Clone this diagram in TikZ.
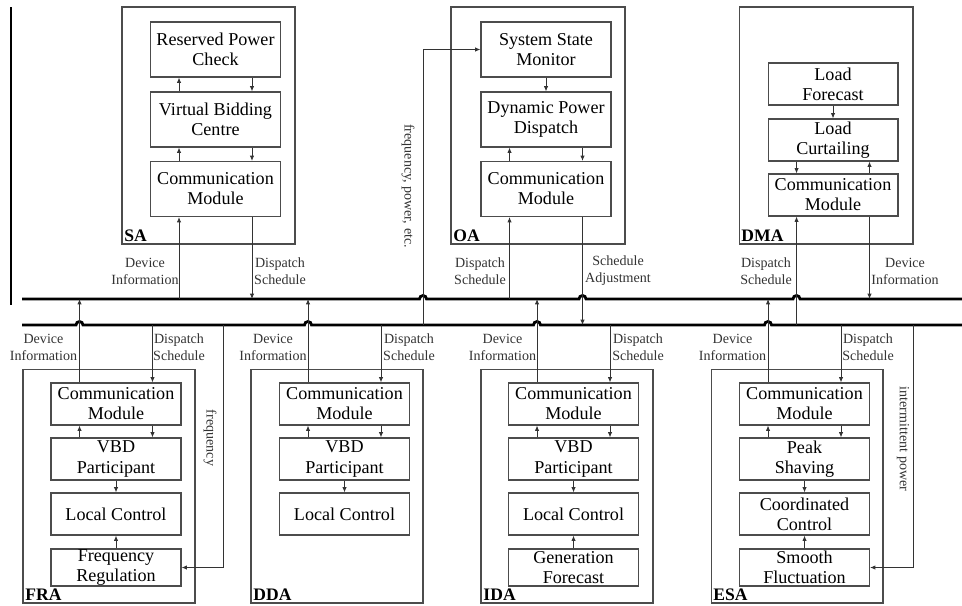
\documentclass[tikz,border=0pt]{standalone}
\usepackage{fontspec}
\setmainfont{Liberation Serif}
\usetikzlibrary{arrows.meta}

\newcommand{\aoff}{0.73cm}

\begin{document}
\begin{tikzpicture}[x=0.02cm, y=-0.02cm,
    box/.style={draw=black!70, line width=0.6pt, minimum width=2.6cm, align=center, inner sep=0pt, font=\rmfamily\fontsize{10.3}{11.4}\selectfont},
    tall/.style={minimum height=1.1cm}, mid/.style={minimum height=0.84cm}, low/.style={minimum height=0.74cm},
    agent/.style={draw=black!70, line width=0.6pt, inner sep=0pt},
    tag/.style={font=\rmfamily\fontsize{10}{12}\selectfont\bfseries, inner sep=1.5pt},
    lbl/.style={font=\rmfamily\fontsize{8}{9.6}\selectfont, text=black!80, align=center, inner sep=1pt},
    arr/.style={draw=black!80, line width=0.45pt, -{Latex[length=3pt,width=2.4pt]}},
    bus/.style={line width=1.6pt}]
    \useasboundingbox (0,0) rectangle (962,605);

    % upper agents
    \node[agent, minimum width=3.46cm, minimum height=4.74cm] (sa) at (208.5,125.5) {};
    \node[tag, anchor=south west] (saTag) at (sa.south west) {SA};
    \node[box, tall] (saRPC) at (215.5,49.5) {Reserved Power\\Check};
    \node[box, tall] (saVBC) at (215.5,119.5) {Virtual Bidding\\Centre};
    \node[box, tall] (saCom) at (215.5,189) {Communication\\Module};

    \node[agent, minimum width=3.48cm, minimum height=4.74cm] (oa) at (538,125.5) {};
    \node[tag, anchor=south west] (oaTag) at (oa.south west) {OA};
    \node[box, tall] (oaSSM) at (546,49.5) {System State\\Monitor};
    \node[box, tall] (oaDPD) at (546,119.5) {Dynamic Power\\Dispatch};
    \node[box, tall] (oaCom) at (546,189) {Communication\\Module};

    \node[agent, minimum width=3.48cm, minimum height=4.74cm] (dma) at (826,125.5) {};
    \node[tag, anchor=south west] (dmaTag) at (dma.south west) {DMA};
    \node[box, mid] (dmaLF) at (833,84) {Load\\Forecast};
    \node[box, mid] (dmaLC) at (833,140) {Load\\Curtailing};
    \node[box, mid] (dmaCom) at (833,195) {Communication\\Module};

    % lower agents
    \node[agent, minimum width=3.44cm, minimum height=4.68cm] (fra) at (109,486) {};
    \node[tag, anchor=south west] (fraTag) at (fra.south west) {FRA};
    \node[box, mid] (fraCom) at (116,404) {Communication\\Module};
    \node[box, mid] (fraVBD) at (116,459) {VBD\\Participant};
    \node[box, mid] (fraLC) at (116,514) {Local Control};
    \node[box, low] (fraFR) at (116,567.5) {Frequency\\Regulation};

    \node[agent, minimum width=3.44cm, minimum height=4.68cm] (dda) at (337,486) {};
    \node[tag, anchor=south west] (ddaTag) at (dda.south west) {DDA};
    \node[box, mid] (ddaCom) at (344.5,404) {Communication\\Module};
    \node[box, mid] (ddaVBD) at (344.5,459) {VBD\\Participant};
    \node[box, mid] (ddaLC) at (344.5,514) {Local Control};

    \node[agent, minimum width=3.44cm, minimum height=4.68cm] (ida) at (567,486) {};
    \node[tag, anchor=south west] (idaTag) at (ida.south west) {IDA};
    \node[box, mid] (idaCom) at (573.5,404) {Communication\\Module};
    \node[box, mid] (idaVBD) at (573.5,459) {VBD\\Participant};
    \node[box, mid] (idaLC) at (573.5,514) {Local Control};
    \node[box, low] (idaGF) at (573.5,567.5) {Generation\\Forecast};

    \node[agent, minimum width=3.44cm, minimum height=4.68cm] (esa) at (797,486) {};
    \node[tag, anchor=south west] (esaTag) at (esa.south west) {ESA};
    \node[box, mid] (esaCom) at (804.5,404) {Communication\\Module};
    \node[box, mid] (esaPS) at (804.5,459) {Peak\\Shaving};
    \node[box, mid] (esaCC) at (804.5,514) {Coordinated\\Control};
    \node[box, low] (esaSF) at (804.5,567.5) {Smooth\\Fluctuation};

    % buses
    \coordinate (upL) at (22,299); \coordinate (upR) at (962,299);
    \coordinate (loL) at (22,325); \coordinate (loR) at (962,325);
    \draw[line width=1.2pt] (11,7) -- (11,305);
    \draw[bus] (upL) foreach \h in {423,582.5,796.5} {-- (\h-3.5,299) arc[start angle=180, end angle=0, radius=0.07cm]} -- (upR);
    \draw[bus] (loL) foreach \h in {79.5,308,537,768} {-- (\h-3.5,325) arc[start angle=180, end angle=0, radius=0.07cm]} -- (loR);

    % inside the agents
    \draw[arr] ([xshift=-\aoff]saVBC.north) -- ([xshift=-\aoff]saRPC.south);
    \draw[arr] ([xshift=\aoff]saRPC.south) -- ([xshift=\aoff]saVBC.north);
    \draw[arr] ([xshift=-\aoff]saCom.north) -- ([xshift=-\aoff]saVBC.south);
    \draw[arr] ([xshift=\aoff]saVBC.south) -- ([xshift=\aoff]saCom.north);
    \draw[arr] (oaSSM) -- (oaDPD);
    \draw[arr] ([xshift=-\aoff]oaCom.north) -- ([xshift=-\aoff]oaDPD.south);
    \draw[arr] ([xshift=\aoff]oaDPD.south) -- ([xshift=\aoff]oaCom.north);
    \draw[arr] (dmaLF) -- (dmaLC);
    \draw[arr] ([xshift=-\aoff]dmaLC.south) -- ([xshift=-\aoff]dmaCom.north);
    \draw[arr] ([xshift=\aoff]dmaCom.north) -- ([xshift=\aoff]dmaLC.south);
    \foreach \a/\b in {fra/VBD,dda/VBD,ida/VBD,esa/PS} {
        \draw[arr] ([xshift=-\aoff]\a\b.north) -- ([xshift=-\aoff]\a Com.south);
        \draw[arr] ([xshift=\aoff]\a Com.south) -- ([xshift=\aoff]\a\b.north);
    }
    \draw[arr] (esaPS) -- (esaCC); \draw[arr] (esaSF) -- (esaCC);
    \draw[arr] (fraVBD) -- (fraLC); \draw[arr] (fraFR) -- (fraLC);
    \draw[arr] (ddaVBD) -- (ddaLC);
    \draw[arr] (idaVBD) -- (idaLC); \draw[arr] (idaGF) -- (idaLC);

    % to and from the buses
    \draw[arr] ([xshift=-\aoff]saCom.south |- upL) -- ([xshift=-\aoff]saCom.south);
    \draw[arr] ([xshift=\aoff]saCom.south) -- ([xshift=\aoff]saCom.south |- upL);
    \draw[arr] ([xshift=-\aoff]oaCom.south |- upL) -- ([xshift=-\aoff]oaCom.south);
    \draw[arr] ([xshift=\aoff]oaCom.south) -- ([xshift=\aoff]oaCom.south |- loL);
    \draw[arr] ([xshift=-\aoff]dmaCom.south |- loL) -- ([xshift=-\aoff]dmaCom.south);
    \draw[arr] ([xshift=\aoff]dmaCom.south) -- ([xshift=\aoff]dmaCom.south |- upL);
    \foreach \a in {fra,dda,ida,esa} {
        \draw[arr] ([xshift=-\aoff]\a Com.north) -- ([xshift=-\aoff]\a Com.north |- upL);
        \draw[arr] ([xshift=\aoff]\a Com.north |- loL) -- ([xshift=\aoff]\a Com.north);
    }
    \coordinate (fpBus) at (423,325); \coordinate (fqBus) at (223,325); \coordinate (ipBus) at (913,325);
    \draw[arr] (fpBus) |- (oaSSM.west);
    \draw[arr] (fqBus) |- (fraFR.east);
    \draw[arr] (ipBus) |- (esaSF.east);

    % labels
    \node[lbl] (saDev) at (145,271) {Device\\Information};
    \node[lbl] (saDis) at (280,271) {Dispatch\\Schedule};
    \node[lbl] (oaDis) at (480,271) {Dispatch\\Schedule};
    \node[lbl] (oaAdj) at (618,271) {Schedule\\Adjustment};
    \node[lbl] (dmaDis) at (766,271) {Dispatch\\Schedule};
    \node[lbl] (dmaDev) at (905,271) {Device\\Information};
    \node[lbl] (fraDev) at (43.5,347) {Device\\Information};
    \node[lbl] (fraDis) at (179,347) {Dispatch\\Schedule};
    \node[lbl] (ddaDev) at (273,347) {Device\\Information};
    \node[lbl] (ddaDis) at (409,347) {Dispatch\\Schedule};
    \node[lbl] (idaDev) at (502.5,347) {Device\\Information};
    \node[lbl] (idaDis) at (638,347) {Dispatch\\Schedule};
    \node[lbl] (esaDev) at (732.5,347) {Device\\Information};
    \node[lbl] (esaDis) at (868,347) {Dispatch\\Schedule};
    \node[lbl, rotate=-90] (fpLbl) at (408,186) {frequency, power, etc.};
    \node[lbl, rotate=-90] (fqLbl) at (210,438) {frequency};
    \node[lbl, rotate=-90] (ipLbl) at (903,439) {intermittent power};
\end{tikzpicture}
\end{document}
